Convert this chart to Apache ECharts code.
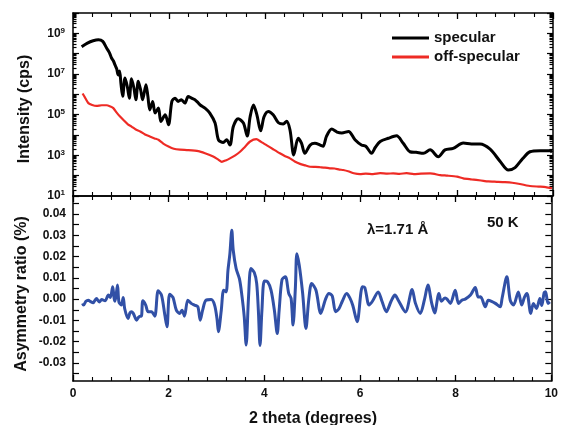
<!DOCTYPE html>
<html><head><meta charset="utf-8">
<script src="https://cdn.jsdelivr.net/npm/echarts@6/dist/echarts.min.js"></script>
<style>html,body{margin:0;padding:0;background:#fff}#c{width:561px;height:425px}</style>
</head><body><div id="c"></div>
<script>
// ---- data ----
var specX = [0.18,0.30,0.42,0.53,0.62,0.70,0.76,0.80,0.84,0.875,0.91,0.94,0.97,1.00,1.035,1.083,1.13,1.174,1.22,1.27,1.31,1.36,1.41,1.45,1.52,1.56,1.60,1.66,1.71,1.78,1.83,1.92,1.99,2.06,2.125,2.19,2.26,2.33,2.40,2.47,2.54,2.60,2.65,2.75,2.85,2.96,3.03,3.13,3.20,3.27,3.34,3.44,3.55,3.63,3.69,3.76,3.83,3.91,3.98,4.07,4.17,4.28,4.38,4.45,4.52,4.60,4.69,4.76,4.83,4.94,5.04,5.15,5.21,5.28,5.39,5.50,5.60,5.74,5.875,6.01,6.10,6.22,6.30,6.40,6.57,6.74,6.88,7.02,7.15,7.30,7.44,7.61,7.75,7.92,8.13,8.30,8.48,8.69,8.90,9.07,9.21,9.37,9.52,9.73,9.94,9.98];
var specY = [2.2e8,3.3e8,4.3e8,4.8e8,4.0e8,1.9e8,1.1e8,6.3e7,4.5e7,2.8e7,1.8e7,9e6,1.4e7,3.2e6,8e5,6.3e6,2.5e6,6.5e5,5.8e6,2e6,5.4e5,4.4e6,1.6e6,5.4e5,3e6,8e5,1.7e5,4.5e5,1.2e5,2.1e5,4.6e4,9.8e4,3.2e4,4.5e5,6.5e5,4.5e5,5.4e5,3.7e5,7.8e5,6.5e5,5.4e5,4e5,3e5,2.1e5,1.2e5,3.9e4,5.8e3,4.3e3,5.8e3,3.2e3,2.6e4,6.3e4,3.9e4,8.9e3,7.9e4,3e5,1e5,1.6e4,7.9e4,1.45e5,1e5,4e4,3.5e4,4.7e4,1.8e4,1.05e3,6.9e3,4e3,1.26e3,3.2e3,3.9e3,3.2e3,2.8e3,8.5e3,1.95e4,1.4e4,1.26e4,1.5e4,5.8e3,3.2e3,2.8e3,1.26e3,2.5e3,4.8e3,6.9e3,9.1e3,3.9e3,1.5e3,1.4e3,1.26e3,1.86e3,8.5e2,1.86e3,2.2e3,4e3,3.6e3,3.6e3,2e3,5e2,1.9e2,2.5e2,7e2,1.5e3,1.7e3,1.7e3,1.4e3];

var offX = [0.20,0.26,0.32,0.40,0.49,0.60,0.70,0.78,0.84,0.91,0.98,1.06,1.15,1.22,1.30,1.40,1.50,1.60,1.70,1.78,1.88,1.99,2.10,2.23,2.40,2.61,2.75,2.92,3.02,3.10,3.18,3.27,3.38,3.48,3.58,3.69,3.82,3.92,4.03,4.17,4.31,4.42,4.52,4.62,4.73,4.84,4.94,5.05,5.15,5.25,5.35,5.45,5.55,5.63,5.75,5.85,5.98,6.10,6.25,6.40,6.55,6.67,6.80,6.95,7.10,7.25,7.44,7.65,7.80,8.00,8.13,8.30,8.50,8.65,8.83,9.00,9.15,9.31,9.45,9.52,9.70,9.85,9.98];
var offY = [1.1e6,6.3e5,3.7e5,3e5,2.7e5,2.9e5,2.9e5,2.5e5,2.1e5,1.26e5,8.1e4,5.2e4,3.2e4,2.6e4,1.9e4,1.5e4,1.07e4,8.5e3,6.8e3,5.8e3,3.8e3,2.7e3,2.1e3,1.9e3,1.8e3,1.6e3,1.26e3,8.7e2,6.3e2,4.8e2,5.6e2,7.1e2,1e3,1.5e3,2.6e3,4.8e3,6.2e3,4.6e3,3.2e3,2e3,1.26e3,9.1e2,7.1e2,5e2,3.8e2,3.2e2,2.75e2,2.7e2,2.6e2,2.5e2,2.3e2,2.25e2,2.0e2,1.9e2,1.6e2,1.32e2,1.2e2,1.26e2,1.2e2,1.32e2,1.26e2,1.29e2,1.23e2,1.32e2,1.2e2,1.26e2,1.29e2,1.07e2,1.0e2,8.9e1,7.4e1,6.6e1,5.8e1,5.2e1,5.0e1,4.8e1,4.5e1,3.9e1,3.3e1,3.1e1,2.9e1,2.75e1,2.4e1];

var asymX = [0.20,0.22,0.27,0.32,0.37,0.42,0.49,0.55,0.60,0.67,0.74,0.78,0.83,0.86,0.88,0.93,0.96,1.01,1.05,1.08,1.15,1.19,1.22,1.26,1.33,1.37,1.40,1.43,1.46,1.52,1.57,1.64,1.71,1.78,1.85,1.92,1.965,2.02,2.09,2.16,2.23,2.28,2.33,2.40,2.47,2.54,2.61,2.66,2.71,2.78,2.89,2.96,3.01,3.04,3.10,3.15,3.20,3.24,3.28,3.32,3.35,3.41,3.48,3.53,3.58,3.62,3.67,3.72,3.79,3.84,3.875,3.91,3.95,4.00,4.07,4.14,4.21,4.27,4.31,4.37,4.44,4.51,4.56,4.60,4.65,4.68,4.73,4.80,4.87,4.93,4.99,5.08,5.18,5.28,5.35,5.42,5.49,5.56,5.63,5.72,5.79,5.85,5.94,6.05,6.10,6.19,6.26,6.38,6.46,6.55,6.65,6.73,6.80,6.95,7.09,7.16,7.26,7.35,7.42,7.50,7.56,7.65,7.70,7.78,7.82,7.89,7.99,8.06,8.13,8.20,8.31,8.41,8.47,8.52,8.62,8.68,8.75,8.83,8.93,8.97,9.07,9.14,9.21,9.31,9.38,9.44,9.49,9.57,9.625,9.69,9.76,9.80,9.85,9.88,9.93,9.97];
var asymY = [-0.0020,-0.0028,-0.0010,-0.0005,-0.0012,-0.0017,0.0003,-0.0013,-0.0002,-0.0008,0.0019,0.0008,0.0058,0.0003,-0.0010,0.0066,-0.0013,-0.0028,0.0008,-0.0044,-0.0091,-0.0065,-0.0059,-0.0067,-0.0099,-0.0085,-0.0080,-0.0080,-0.0008,-0.0028,-0.0059,-0.0059,-0.0080,0.0039,0.0019,-0.0075,-0.0130,0.0023,0.0008,-0.0052,-0.0067,-0.0052,-0.0080,-0.0005,-0.0020,-0.0028,-0.0036,-0.0099,-0.0052,-0.0005,-0.0002,-0.0028,-0.0091,-0.0153,-0.0052,0.0042,0.0034,0.0136,0.0214,0.0324,0.0230,0.0144,0.0095,0.0019,-0.0083,-0.0216,0.0011,0.0144,0.0125,0.0074,-0.0052,-0.0218,-0.0052,0.0085,0.0081,0.0042,-0.0052,-0.0162,-0.0052,0.0092,0.0105,0.0027,0.0003,-0.0122,0.0058,0.0214,0.0160,0.0030,-0.0138,0.0000,0.0074,0.0042,-0.0067,0.0000,0.0027,0.0015,-0.0059,-0.0045,-0.0010,0.0027,0.0005,-0.0030,-0.0106,0.0058,0.0055,-0.0028,-0.0010,0.0034,-0.0010,-0.0059,-0.0010,0.0019,-0.0005,-0.0060,0.0045,-0.0020,-0.0067,0.0000,0.0066,-0.0020,-0.0065,0.0027,-0.0010,0.0005,0.0000,-0.0020,0.0042,-0.0020,-0.0005,0.0000,0.0019,0.0055,0.0010,0.0011,-0.0036,-0.0005,-0.0010,-0.0020,-0.0036,0.0003,0.0105,-0.0005,-0.0028,0.0034,-0.0028,0.0010,0.0027,-0.0067,-0.0020,-0.0044,0.0003,-0.0030,0.0030,0.0035,-0.0020,-0.0013];

var xTickLabels = [0,2,4,6,8,10];
var logMajorTicks = [1e1,1e2,1e3,1e4,1e5,1e6,1e7,1e8,1e9,1e10];
var logLabelTicks = [1e1,1e3,1e5,1e7,1e9];
var asymLabelTicks = [-0.03,-0.02,-0.01,0.00,0.01,0.02,0.03,0.04];
var asymTicks = [-0.035,-0.03,-0.025,-0.02,-0.015,-0.01,-0.005,0,0.005,0.01,0.015,0.02,0.025,0.03,0.035,0.04,0.045];

var logMinorTicks = [];
for (var k = 1; k < 10; k++) for (var m = 2; m <= 9; m++) logMinorTicks.push(m * Math.pow(10, k));

function zip(a, b) { return a.map(function (v, i) { return [v, b[i]]; }); }

var FONT = '"Liberation Sans", Arial, sans-serif';
var lineStyle = { color: '#000', width: 1.5 };

function xAx(grid, pos, labels) {
  return {
    type: 'value', gridIndex: grid, position: pos, min: 0, max: 10, interval: 2,
    axisLine: { show: true, lineStyle: lineStyle, onZero: false },
    axisTick: { show: true, inside: true, length: 6, lineStyle: { color: '#000', width: 1.3 } },
    minorTick: { show: true, splitNumber: 5, length: 4, lineStyle: { color: '#000', width: 1.1 } },
    splitLine: { show: false },
    axisLabel: labels ? { show: true, margin: 7, color: '#111', fontWeight: 'bold', fontSize: 12, fontFamily: FONT,
      customValues: xTickLabels } : { show: false }
  };
}
function logAx(pos, ticks, len, labels, showLine) {
  return {
    type: 'log', gridIndex: 0, position: pos, min: 1e1, max: 1e10, logBase: 10,
    axisLine: { show: showLine, lineStyle: lineStyle, onZero: false },
    axisTick: { show: true, inside: true, length: len, customValues: ticks, lineStyle: { color: '#000', width: 1.2 } },
    splitLine: { show: false }, minorTick: { show: false },
    axisLabel: labels ? {
      show: true, margin: 8, customValues: logLabelTicks, fontFamily: FONT,
      formatter: function (v) { return '{b|10}{s|' + Math.round(Math.log10(v)) + '}'; },
      rich: { b: { fontSize: 12, fontWeight: 'bold', color: '#111', fontFamily: FONT },
              s: { fontSize: 8, fontWeight: 'bold', color: '#111', verticalAlign: 'top', fontFamily: FONT, padding: [0, 0, 6, 0] } }
    } : { show: false }
  };
}
function asymAx(pos, labels) {
  return {
    type: 'value', gridIndex: 1, position: pos, min: -0.0385, max: 0.0485,
    axisLine: { show: true, lineStyle: lineStyle, onZero: false },
    axisTick: { show: true, inside: true, length: 6, customValues: asymTicks, lineStyle: { color: '#000', width: 1.2 } },
    splitLine: { show: false },
    axisLabel: labels ? { show: true, margin: 7, customValues: asymLabelTicks, color: '#111', fontWeight: 'bold', fontSize: 12, fontFamily: FONT,
      formatter: function (v) { return v.toFixed(2); } } : { show: false }
  };
}

var chart = echarts.init(document.getElementById('c'), null, { renderer: 'canvas' });
chart.setOption({
  animation: false,
  backgroundColor: '#fff',
  grid: [
    { left: 73, right: 8, top: 13, height: 183 },
    { left: 73, right: 8, top: 196, height: 185 }
  ],
  xAxis: [xAx(0, 'bottom', false), xAx(0, 'top', false), xAx(1, 'bottom', true), xAx(1, 'top', false)],
  yAxis: [
    logAx('left', logMajorTicks, 6, true, true),
    logAx('left', logMinorTicks, 3.5, false, false),
    logAx('right', logMajorTicks, 6, false, true),
    logAx('right', logMinorTicks, 3.5, false, false),
    asymAx('left', true),
    asymAx('right', false)
  ],
  legend: {
    orient: 'vertical', left: 387, top: 23.5, itemWidth: 37, itemHeight: 3, itemGap: 0, icon: 'rect',
    textStyle: { fontSize: 15, fontWeight: 'bold', color: '#111', fontFamily: FONT, lineHeight: 19, padding: [0, 0, 0, 0] },
    data: ['specular', 'off-specular']
  },
  series: [
    { name: 'specular', type: 'line', xAxisIndex: 0, yAxisIndex: 0, data: zip(specX, specY), showSymbol: false, symbol: 'none',
      smooth: 0.3, lineStyle: { color: '#000', width: 3 }, itemStyle: { color: '#000' }, z: 3 },
    { name: 'off-specular', type: 'line', xAxisIndex: 0, yAxisIndex: 0, data: zip(offX, offY), showSymbol: false, symbol: 'none',
      smooth: 0.2, lineStyle: { color: '#ee2b25', width: 2.2 }, itemStyle: { color: '#ee2b25' }, z: 2 },
    { name: 'asym', type: 'line', xAxisIndex: 2, yAxisIndex: 4, data: zip(asymX, asymY), showSymbol: false, symbol: 'none',
      smooth: 0.3, lineStyle: { color: '#3150a6', width: 3 }, itemStyle: { color: '#3150a6' } }
  ],
  graphic: [
    { type: 'text', x: 25, y: 109, rotation: Math.PI / 2, style: { text: 'Intensity (cps)', fill: '#111', font: 'bold 16px ' + FONT, textAlign: 'center', textVerticalAlign: 'middle' } },
    { type: 'text', x: 22, y: 294, rotation: Math.PI / 2, style: { text: 'Asymmetry ratio (%)', fill: '#111', font: 'bold 16px ' + FONT, textAlign: 'center', textVerticalAlign: 'middle' } },
    { type: 'text', x: 313, y: 419, style: { text: '2 theta (degrees)', fill: '#111', font: 'bold 16px ' + FONT, textAlign: 'center', textVerticalAlign: 'middle' } },
    { type: 'text', x: 367, y: 230, style: { text: 'λ=1.71 Å', fill: '#111', font: 'bold 15px ' + FONT, textAlign: 'left', textVerticalAlign: 'middle' } },
    { type: 'text', x: 487, y: 223, style: { text: '50 K', fill: '#111', font: 'bold 15px ' + FONT, textAlign: 'left', textVerticalAlign: 'middle' } }
  ]
});
</script></body></html>
